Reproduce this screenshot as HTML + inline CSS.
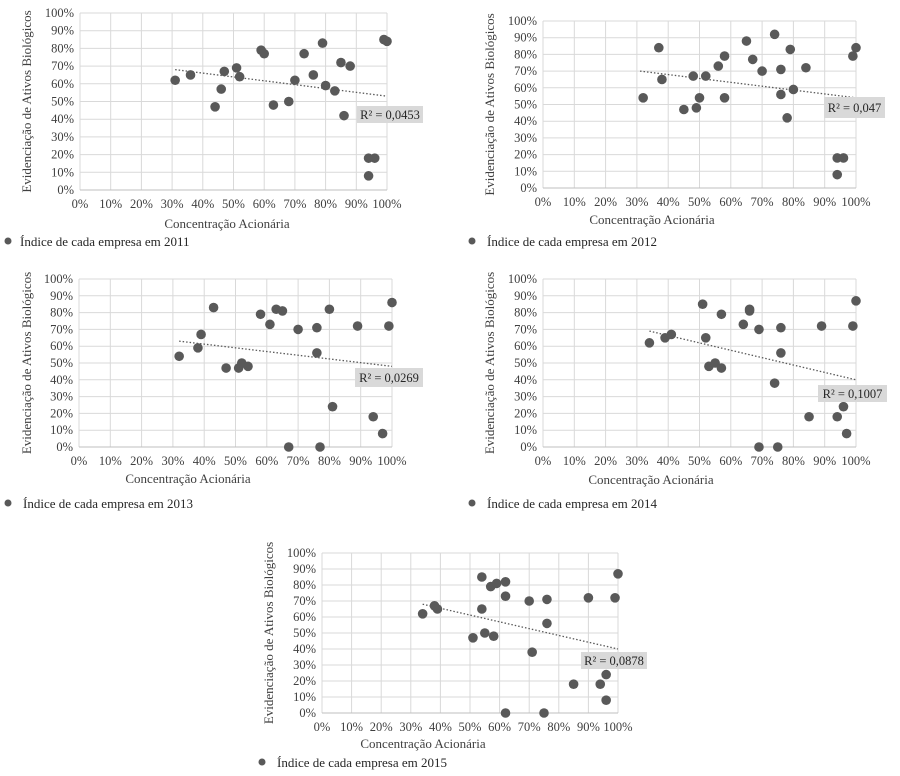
<!DOCTYPE html>
<html><head><meta charset="utf-8">
<style>
html,body{margin:0;padding:0;background:#fff;}
svg{display:block;font-family:"Liberation Serif","Times New Roman",serif;}
</style></head>
<body>
<svg id="root" width="900" height="776" viewBox="0 0 900 776"></svg>
<script>
const years = ["2011","2012","2013","2014","2015"];
const xs2011 = [31,36,44,46,47,51,52,59,60,63,68,70,73,76,79,80,83,85,86,88,94,94,96,99,100];
const ys2011 = [62,65,47,57,67,69,64,79,77,48,50,62,77,65,83,59,56,72,42,70,18,8,18,85,84];
const xs2012 = [32,37,38,45,48,49,50,52,56,58,58,65,67,70,74,76,76,78,79,80,84,94,94,96,99,100];
const ys2012 = [54,84,65,47,67,48,54,67,73,79,54,88,77,70,92,71,56,42,83,59,72,18,8,18,79,84];
const xs2013 = [32,38,39,43,47,51,52,54,58,61,63,65,67,70,76,76,77,80,81,89,94,97,99,100];
const ys2013 = [54,59,67,83,47,47,50,48,79,73,82,81,0,70,71,56,0,82,24,72,18,8,72,86];
const xs2014 = [34,39,41,51,52,53,55,57,57,64,66,66,69,69,74,76,76,75,85,89,94,96,97,99,100];
const ys2014 = [62,65,67,85,65,48,50,47,79,73,82,81,70,0,38,71,56,0,18,72,18,24,8,72,87];
const xs2015 = [34,38,39,51,54,54,55,57,58,59,62,62,62,70,71,75,76,76,85,90,94,96,96,99,100];
const ys2015 = [62,67,65,47,85,65,50,79,48,81,73,82,0,70,38,0,71,56,18,72,18,24,8,72,87];
const trendX = [[31,100],[31,100],[32,100],[34,100],[34,100]];
const trendY = [[68,53],[70,54],[63,48],[69,40],[68,40]];
const r2Labels = ["R² = 0,0453","R² = 0,047","R² = 0,0269","R² = 0,1007","R² = 0,0878"];
const ticks = [0,10,20,30,40,50,60,70,80,90,100];
const xsAll=[xs2011,xs2012,xs2013,xs2014,xs2015];
const ysAll=[ys2011,ys2012,ys2013,ys2014,ys2015];
const L=[
 {x0:80,x1:387,yt:13,yb:190,ytx:31,xty:228,xtc:227,lgy:246,dot:8,lgx:20,r2:[357,106,66,17]},
 {x0:543,x1:856,yt:21,yb:188,ytx:494,xty:224,xtc:652,lgy:246,dot:472,lgx:487,r2:[824,97,61,21]},
 {x0:79,x1:392,yt:279,yb:447,ytx:31,xty:483,xtc:188,lgy:508,dot:8,lgx:23,r2:[355,368,68,19]},
 {x0:543,x1:856,yt:279,yb:447,ytx:494,xty:484,xtc:651,lgy:508,dot:472,lgx:487,r2:[818,385,69,17]},
 {x0:322,x1:618,yt:553,yb:713,ytx:273,xty:748,xtc:423,lgy:767,dot:262,lgx:277,r2:[581,652,66,17]}
];
const NS="http://www.w3.org/2000/svg";
const root=document.getElementById('root');
function mk(tag,attrs,parent,text){const e=document.createElementNS(NS,tag);for(const k in attrs)e.setAttribute(k,attrs[k]);if(text!==undefined)e.textContent=text;parent.appendChild(e);return e;}
years.forEach((yr,i)=>{
 const c=L[i];
 const sx=v=>c.x0+(c.x1-c.x0)*v/100;
 const sy=v=>c.yb-(c.yb-c.yt)*v/100;
 const g=mk('g',{},root);
 
 
 ticks.forEach(t=>{
  const v=mk('line',{x1:sx(t),x2:sx(t),y1:c.yt,y2:c.yb,stroke:'#d9d9d9','stroke-width':1},g);
  
  
  const h=mk('line',{x1:c.x0,x2:c.x1,y1:sy(t),y2:sy(t),stroke:'#d9d9d9','stroke-width':1},g);
  
  
  const yl=mk('text',{x:c.x0-6,y:sy(t)+4,'text-anchor':'end','font-size':12.5,fill:'#404040'},g,t+'%');
  
  
  const xl=mk('text',{x:sx(t),y:c.yb+18,'text-anchor':'middle','font-size':12.5,fill:'#404040'},g,t+'%');
  
  
 });
 const ax=mk('line',{x1:c.x0,x2:c.x1,y1:c.yb,y2:c.yb,stroke:'#bfbfbf','stroke-width':1},g);
 
 
 const tr=mk('line',{x1:sx(trendX[i][0]),y1:sy(trendY[i][0]),x2:sx(trendX[i][1]),y2:sy(trendY[i][1]),stroke:'#595959','stroke-width':1.3,'stroke-dasharray':'1.5,2'},g);
 
 
 xsAll[i].forEach((xv,j)=>{
  const p=mk('circle',{cx:sx(xv),cy:sy(ysAll[i][j]),r:4.8,fill:'#595959'},g);
  
  
 });
 const b=c.r2;
 const rb=mk('rect',{x:b[0],y:b[1],width:b[2],height:b[3],fill:'#d9d9d9'},g);
 
 
 const rt=mk('text',{x:b[0]+b[2]/2,y:b[1]+b[3]/2+4.5,'text-anchor':'middle','font-size':12.5,fill:'#262626'},g,r2Labels[i]);
 
 
 const ymid=(c.yt+c.yb)/2;
 const yt=mk('text',{x:c.ytx,y:ymid,'text-anchor':'middle','font-size':13,fill:'#404040',transform:'rotate(-90 '+c.ytx+' '+ymid+')'},g,'Evidenciação de Ativos Biológicos');
 
 
 const xt=mk('text',{x:c.xtc,y:c.xty,'text-anchor':'middle','font-size':13,fill:'#404040'},g,'Concentração Acionária');
 
 
 const ld=mk('circle',{cx:c.dot,cy:c.lgy-5,r:3.5,fill:'#595959'},g);
 
 
 const lt=mk('text',{x:c.lgx,y:c.lgy,'font-size':13,fill:'#262626'},g,'Índice de cada empresa em '+yr);
 
 
});
</script>
</body></html>
